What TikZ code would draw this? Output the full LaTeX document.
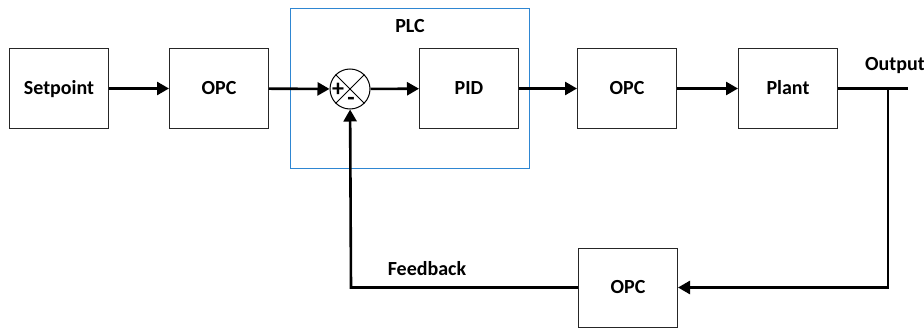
\documentclass[tikz,border=0pt]{standalone}
\usepackage{fontspec}
\setmainfont{Carlito}
\usetikzlibrary{arrows.meta}
\begin{document}
\begin{tikzpicture}[x=1pt,y=-1pt,
  blk/.style={draw=black!85,line width=1pt,minimum width=99pt,minimum height=79pt,inner sep=0pt,text height=12.9pt,text depth=0pt,font=\fontsize{20}{22}\selectfont\bfseries},
  lbl/.style={font=\fontsize{20}{22}\selectfont\bfseries,inner sep=0pt,text height=12.9pt,text depth=0pt},
  sgn/.style={font=\fontsize{24}{24}\selectfont\bfseries,inner sep=0pt},
  sig/.style={line width=2.6pt,-{Triangle[length=12pt,width=13pt]}},
  wire/.style={line width=2.6pt}]
\useasboundingbox[fill=white] (0,0) rectangle (924,329);
\draw[draw={rgb,255:red,46;green,134;blue,210},line width=1pt] (290,9) rectangle (529,168);
\node[lbl] (plc) at (410,26) {PLC};
\node[blk] (sp) at (59,88.5) {Setpoint};
\node[blk] (opc1) at (219,88.5) {OPC};
\node[blk] (pid) at (469,88.5) {PID};
\node[blk] (opc2) at (627,88.5) {OPC};
\node[blk] (plant) at (788,88.5) {Plant};
\node[blk] (opc3) at (628,287.5) {OPC};
\node[draw=black,line width=1pt,circle,minimum size=40pt,inner sep=0pt] (sum) at (350,89) {};
\draw[line width=0.8pt] (sum.north west) -- (sum.south east) (sum.north east) -- (sum.south west);
\node[sgn] (plus) at (338,89.5) {+};
\node[sgn] (minus) at (351,101) {-};
\node[lbl] (out) at (895,64) {Output};
\node[lbl] (fb) at (427,269) {Feedback};
\coordinate (oend) at (908,88.5);
\coordinate (br) at (888,88.5);
\coordinate (brd) at (888,287.5);
\coordinate (fbc) at (351,287.5);
\draw[sig] (sp) -- (opc1);
\draw[sig] (opc1) -- (sum);
\draw[sig] (sum) -- (pid);
\draw[sig] (pid) -- (opc2);
\draw[sig] (opc2) -- (plant);
\draw[wire] (plant) -- (oend);
\draw[sig] (br) -- (brd) -- (opc3);
\draw[sig] (opc3) -- (fbc) -- (sum);
\end{tikzpicture}
\end{document}
